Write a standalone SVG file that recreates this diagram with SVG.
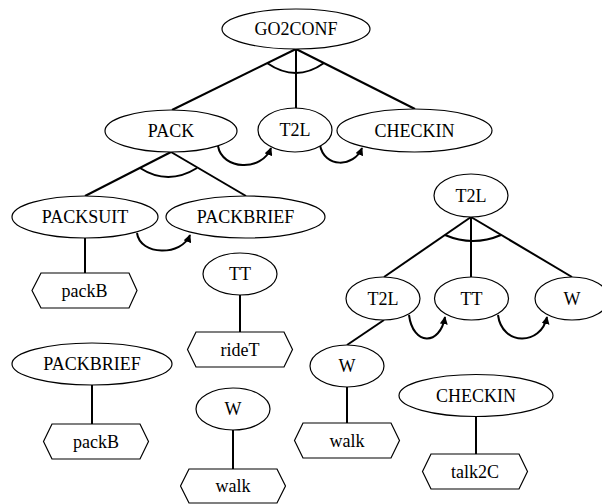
<svg xmlns="http://www.w3.org/2000/svg" width="602" height="504" viewBox="0 0 602 504" font-family="'Liberation Serif', 'DejaVu Serif', serif">
<style>
.n ellipse, .n polygon { fill: #fff; stroke: #000; stroke-width: 1.2; }
text { font-family: 'Liberation Serif', 'DejaVu Serif', serif; font-size: 18px; text-anchor: middle; fill: #000; }
.e line, .e path { stroke: #000; stroke-width: 2; fill: none; }
.a { marker-end: url(#ah); }
</style>
<defs>
<marker id="ah" viewBox="0 0 10 10" refX="9" refY="5" markerWidth="4" markerHeight="4" markerUnits="strokeWidth" orient="auto">
<path d="M0,0 L10,5 L0,10 z" fill="#000"/>
</marker>
</defs>
<rect width="602" height="504" fill="#fff"/>
<g class="e" id="connectors">
<line x1="296" y1="49" x2="172" y2="110"/>
<line x1="296" y1="49" x2="296" y2="109"/>
<line x1="296" y1="49" x2="415" y2="109"/>
<path d="M267,63 Q296,83 324,63"/>
<path class="a" d="M218,146 C222,170 262,172 271,148"/>
<path class="a" d="M320,145 C324,168 354,168 362,148"/>
<line x1="171" y1="152" x2="85" y2="196"/>
<line x1="171" y1="152" x2="246" y2="196"/>
<path d="M140,168 Q168,186 197,168"/>
<path class="a" d="M137,233 C140,256 182,256 190,235"/>
<line x1="85" y1="238" x2="85" y2="273"/>
<line x1="240" y1="295" x2="240" y2="332"/>
<line x1="471" y1="217" x2="384" y2="277"/>
<line x1="471" y1="217" x2="471" y2="277"/>
<line x1="471" y1="217" x2="572" y2="277"/>
<path d="M445,235 Q473,247 501,235"/>
<path class="a" d="M409,315 C413,346 440,346 445,317"/>
<path class="a" d="M498,315 C502,346 541,346 547,317"/>
<line x1="384" y1="320" x2="347" y2="345"/>
<line x1="92" y1="385" x2="92" y2="424"/>
<line x1="233" y1="430" x2="233" y2="469"/>
<line x1="347" y1="387" x2="347" y2="423"/>
<line x1="476" y1="416" x2="476" y2="454"/>
</g>
<g class="n" id="go2conf"><ellipse cx="296" cy="29" rx="74" ry="20"/><text x="296" y="35">GO2CONF</text></g>
<g class="n" id="pack"><ellipse cx="171" cy="131" rx="66" ry="21"/><text x="171" y="137">PACK</text></g>
<g class="n" id="t2l-a"><ellipse cx="295" cy="130" rx="37" ry="22"/><text x="295" y="136">T2L</text></g>
<g class="n" id="checkin-a"><ellipse cx="414.5" cy="130.5" rx="77.5" ry="21.5"/><text x="414.5" y="136.5">CHECKIN</text></g>
<g class="n" id="packsuit"><ellipse cx="85" cy="217" rx="73" ry="21"/><text x="85" y="223">PACKSUIT</text></g>
<g class="n" id="packbrief-a"><ellipse cx="245.5" cy="217" rx="79.5" ry="21"/><text x="245.5" y="223">PACKBRIEF</text></g>
<g class="n" id="packb-a"><polygon points="41,273 129,273 137,290.5 129,308 41,308 32,290.5"/><text x="84.5" y="296.5">packB</text></g>
<g class="n" id="tt-a"><ellipse cx="240" cy="274" rx="37" ry="21"/><text x="240" y="280">TT</text></g>
<g class="n" id="ridet"><polygon points="196,332 284,332 292.5,349.5 284,367 196,367 187.5,349.5"/><text x="240" y="355.5">rideT</text></g>
<g class="n" id="t2l-b"><ellipse cx="471" cy="195.5" rx="37" ry="21.5"/><text x="471" y="201.5">T2L</text></g>
<g class="n" id="t2l-c"><ellipse cx="383" cy="298.5" rx="37" ry="21.5"/><text x="383" y="304.5">T2L</text></g>
<g class="n" id="tt-b"><ellipse cx="471.5" cy="298.5" rx="37" ry="21.5"/><text x="471.5" y="304.5">TT</text></g>
<g class="n" id="w-b"><ellipse cx="572" cy="298.5" rx="37" ry="21.5"/><text x="572" y="304.5">W</text></g>
<g class="n" id="w-c"><ellipse cx="347" cy="366" rx="37" ry="21"/><text x="347" y="372">W</text></g>
<g class="n" id="walk-c"><polygon points="303,423 391,423 399.5,440.5 391,458 303,458 294.5,440.5"/><text x="347" y="446.5">walk</text></g>
<g class="n" id="packbrief-b"><ellipse cx="92" cy="364" rx="80" ry="21"/><text x="92" y="370">PACKBRIEF</text></g>
<g class="n" id="packb-b"><polygon points="52,424 140,424 148.5,441.5 140,459 52,459 43.5,441.5"/><text x="96" y="447.5">packB</text></g>
<g class="n" id="w-a"><ellipse cx="233" cy="409" rx="37" ry="21"/><text x="233" y="415">W</text></g>
<g class="n" id="walk-a"><polygon points="189,469 277,469 285.5,486 277,503 189,503 180.5,486"/><text x="233" y="492">walk</text></g>
<g class="n" id="checkin-b"><ellipse cx="476" cy="395.5" rx="77" ry="21"/><text x="476" y="401.5">CHECKIN</text></g>
<g class="n" id="talk2c"><polygon points="431,454 519,454 527.5,471.5 519,489 431,489 422.5,471.5"/><text x="475" y="477.5">talk2C</text></g>
</svg>
